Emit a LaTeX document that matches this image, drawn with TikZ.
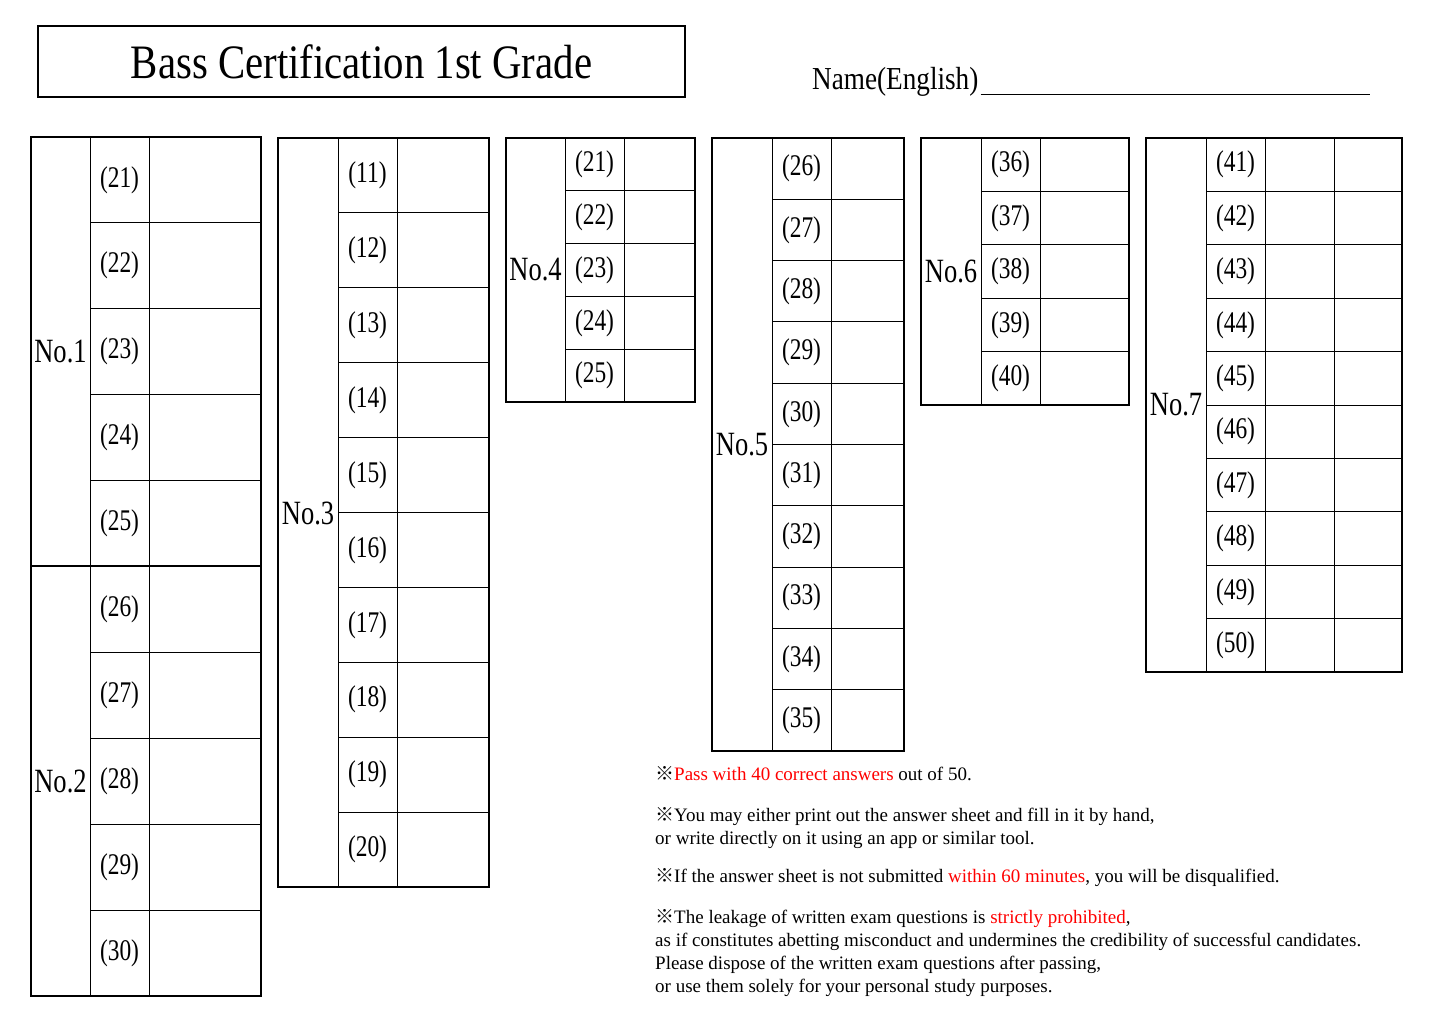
\documentclass[tikz,border=0pt]{standalone}
\usepackage{fontspec}
\setmainfont{Liberation Serif}
\newfontfamily\cjk{Noto Sans CJK JP}
\newcommand\kome{{\cjk ※}}
\tikzset{
 boxline/.style={line width=2.5pt},
 thinline/.style={line width=1pt},
 numtxt/.style={font=\fontsize{30}{30}\selectfont,inner sep=0pt},
 labtxt/.style={font=\fontsize{34}{34}\selectfont,inner sep=0pt},
 notetxt/.style={font=\fontsize{19}{23}\selectfont,inner sep=0pt,anchor=north west,align=left}
}
\newcommand\Cnd[1]{\scalebox{0.78}[1]{#1}}
\newcommand\AnsTab[9]{%
 \pgfmathsetmacro\tbbot{#6+#7*#8}%
 \draw[boxline] (#2,#6) rectangle (#5,\tbbot);
 \draw[thinline] (#3,#6)--(#3,\tbbot) (#4,#6)--(#4,\tbbot);
 \foreach \i in {1,...,#8}{%
   \pgfmathtruncatemacro\num{#9+\i-1}%
   \pgfmathsetmacro\yc{#6+(\i-0.5)*#7}%
   \node[numtxt] (#1-\i) at ({(#3+#4)/2},\yc) {\Cnd{(\num)}};
   \ifnum\i<#8 \draw[thinline] (#3,{#6+\i*#7}) -- (#5,{#6+\i*#7});\fi
 }%
}
\begin{document}
\begin{tikzpicture}[x=1pt,y=-1pt]
\useasboundingbox[fill=white] (0,0) rectangle (1445,1022);
% title
\node[draw,line width=2.5pt,minimum width=647pt,minimum height=71pt,font=\fontsize{48}{48}\selectfont] (title) at (361.5,61.5) {\scalebox{0.85}[1]{Bass Certification 1st Grade}};
\node[font=\fontsize{32}{32}\selectfont,anchor=base west,inner sep=0pt] (name) at (812,90) {\scalebox{0.85}[1]{Name(English)}};
\coordinate (ul) at (1370,95);
\draw[thinline] (name.south east |- ul) ++(2,0) -- (ul);
% tables
\AnsTab{t1}{31}{90}{149}{261}{137}{85.8}{5}{21}
\AnsTab{t2}{31}{90}{149}{261}{566}{86}{5}{26}
\node[labtxt] (l1) at (60.5,352) {\Cnd{No.1}};
\node[labtxt] (l2) at (60.5,781) {\Cnd{No.2}};
\AnsTab{t3}{278}{338}{397}{489}{138}{74.9}{10}{11}
\node[labtxt] (l3) at (308,513) {\Cnd{No.3}};
\AnsTab{t4}{506}{565}{624}{695}{138}{52.8}{5}{21}
\node[labtxt] (l4) at (535.5,270) {\Cnd{No.4}};
\AnsTab{t5}{712}{772}{831}{904}{138}{61.3}{10}{26}
\node[labtxt] (l5) at (742,445) {\Cnd{No.5}};
\AnsTab{t6}{921}{981}{1040}{1129}{138}{53.4}{5}{36}
\node[labtxt] (l6) at (951,271) {\Cnd{No.6}};
\AnsTab{t7}{1146}{1206}{1265}{1402}{138}{53.4}{10}{41}
\draw[thinline] (1334,138)--(1334,672);
\node[labtxt] (l7) at (1176,405) {\Cnd{No.7}};
% notes
\node[notetxt] (n1) at (655,766) {\kome\textcolor{red}{Pass with 40 correct answers} out of 50.};
\node[notetxt] (n2) at (655,807) {\kome You may either print out the answer sheet and fill in it by hand,\\or write directly on it using an app or similar tool.};
\node[notetxt] (n3) at (655,868) {\kome If the answer sheet is not submitted \textcolor{red}{within 60 minutes}, you will be disqualified.};
\node[notetxt] (n4) at (655,909) {\kome The leakage of written exam questions is \textcolor{red}{strictly prohibited},\\as if constitutes abetting misconduct and undermines the credibility of successful candidates.\\Please dispose of the written exam questions after passing,\\or use them solely for your personal study purposes.};
\end{tikzpicture}
\end{document}
